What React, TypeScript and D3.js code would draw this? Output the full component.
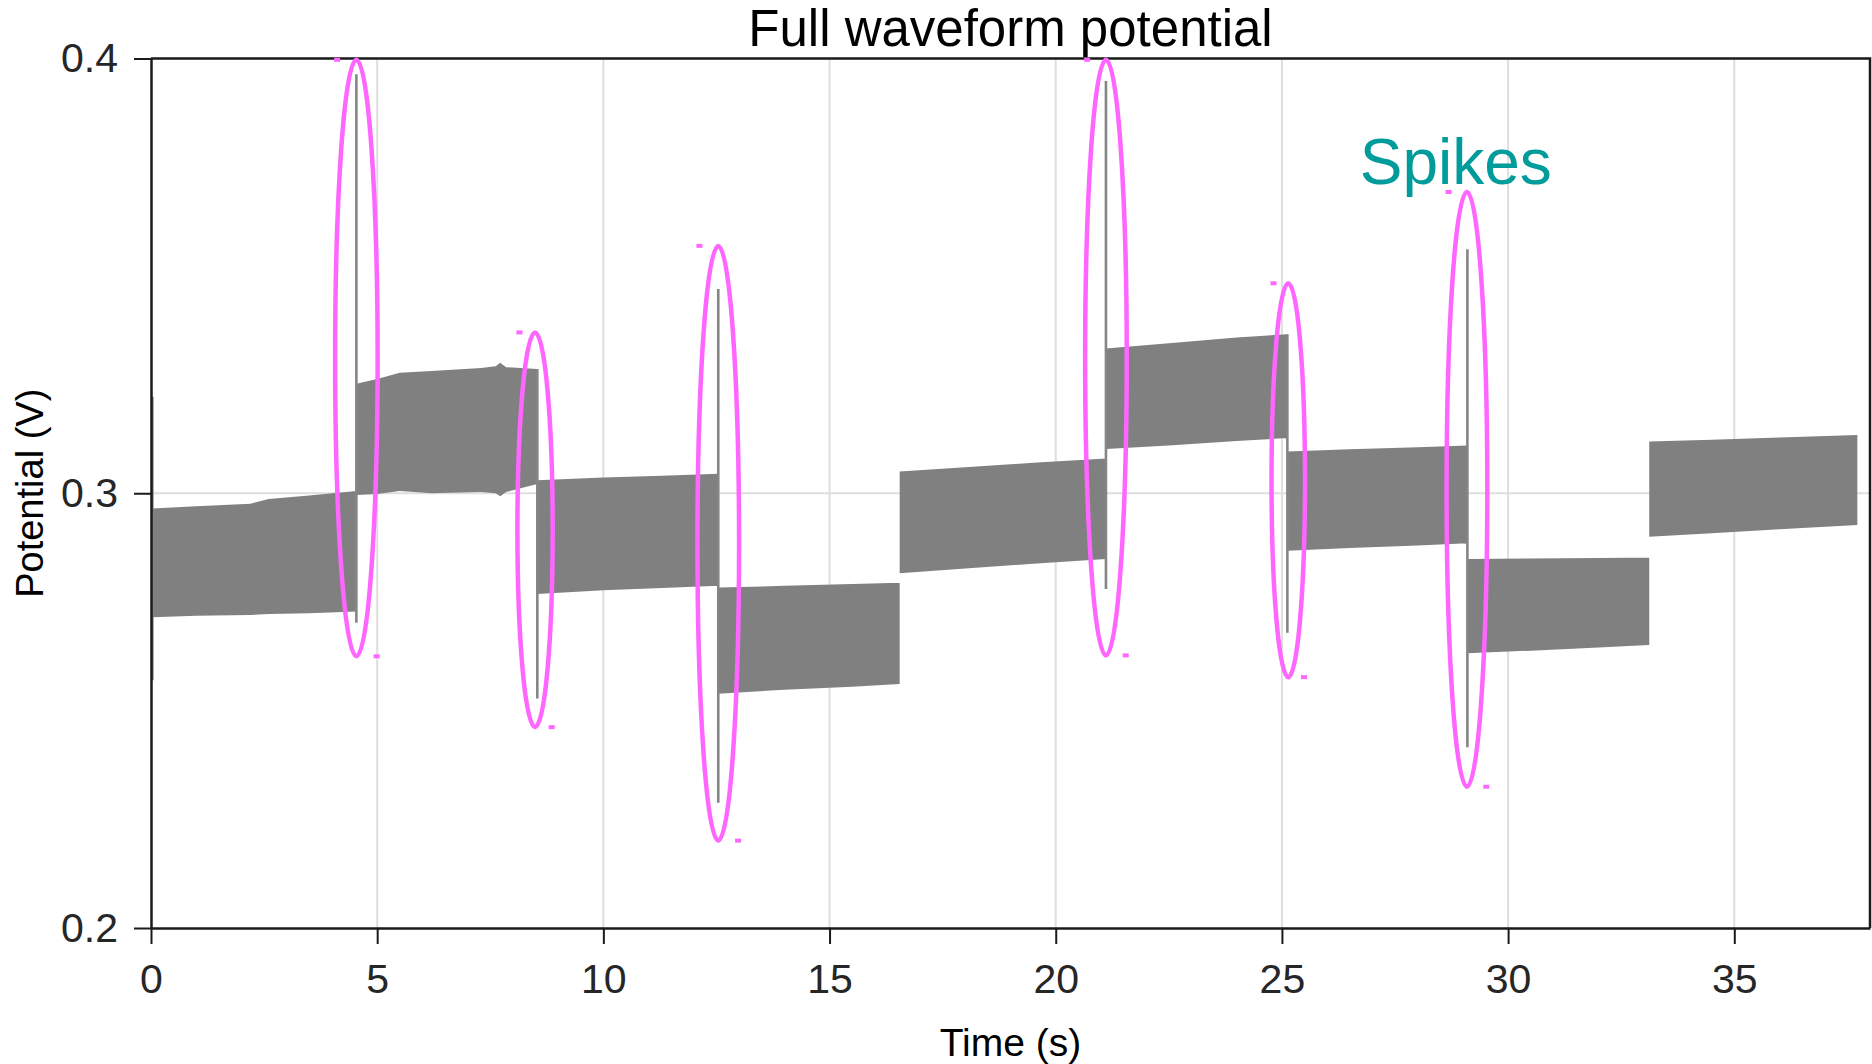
import React, { useEffect, useRef } from "react";
import * as d3 from "d3";

// tick values
const timeTicks = [0, 5, 10, 15, 20, 25, 30, 35];
const potentialTicks = [0.2, 0.3, 0.4];

// envelope of the (dense) waveform band
const envTime = [
  0.03, 1.0, 2.2, 2.6, 3.5, 4.54,
  4.54, 5.0, 5.5, 6.2, 7.3, 7.62, 7.72, 7.85, 8.54,
  8.54, 10.0, 11.3, 12.54,
  12.54, 14.0, 15.5, 16.55,
  16.55, 18.0, 19.5, 21.11,
  21.11, 22.5, 24.0, 25.12,
  25.12, 26.5, 28.0, 29.1,
  29.1, 30.5, 32.0, 33.12,
  33.12, 34.5, 36.0, 37.72
];
const envUpper = [
  0.2965, 0.2970, 0.2976, 0.2987, 0.2995, 0.3005,
  0.3252, 0.3263, 0.3277, 0.3281, 0.3288, 0.3292, 0.3300, 0.3290, 0.3286,
  0.3030, 0.3036, 0.3040, 0.3045,
  0.2783, 0.2787, 0.2791, 0.2794,
  0.3050, 0.3060, 0.3070, 0.3080,
  0.3333, 0.3345, 0.3358, 0.3366,
  0.3096, 0.3101, 0.3106, 0.3110,
  0.2849, 0.2850, 0.2851, 0.2852,
  0.3119, 0.3123, 0.3128, 0.3134
];
const envLower = [
  0.2715, 0.2718, 0.2720, 0.2722, 0.2724, 0.2728,
  0.2996, 0.2998, 0.3005, 0.3000, 0.3003, 0.3000, 0.2993, 0.3003, 0.3021,
  0.2768, 0.2777, 0.2782, 0.2787,
  0.2539, 0.2548, 0.2555, 0.2561,
  0.2816, 0.2827, 0.2838, 0.2849,
  0.3102, 0.3110, 0.3120, 0.3127,
  0.2868, 0.2874, 0.2880, 0.2885,
  0.2632, 0.2638, 0.2645, 0.2651,
  0.2900, 0.2908, 0.2917, 0.2927
];

// transient spikes (thin vertical strokes)
const spikeTime = [0.03, 4.54, 8.54, 12.54, 21.11, 25.12, 29.1];
const spikeHigh = [0.3222, 0.3964, 0.3286, 0.347, 0.3948, 0.3366, 0.3561];
const spikeLow = [0.257, 0.2702, 0.2528, 0.2288, 0.278, 0.2679, 0.2416];

// annotation rings around the spikes
const ringTime = [4.54, 8.49, 12.54, 21.11, 25.14, 29.09];
const ringCenter = [0.3311, 0.2916, 0.2885, 0.3312, 0.303, 0.3009];
const ringHalfHeight = [0.0686, 0.0454, 0.0684, 0.0685, 0.0453, 0.0684];
const ringHalfWidth = [0.47, 0.39, 0.46, 0.46, 0.37, 0.45];

const labelTime = 26.72;
const labelValue = 0.3711;

const FONT = "'Liberation Sans', Arial, Helvetica, sans-serif";

function App() {
  const ref = useRef(null);

  useEffect(() => {
    drawChart();
  }, []);

  const drawChart = () => {
    const width = 1872, height = 1064;
    const margin = { top: 58.5, right: 2, bottom: 136, left: 151 };

    const root = d3.select(ref.current);
    root.selectAll("*").remove();

    const svg = root.append("svg")
      .attr("width", width)
      .attr("height", height)
      .style("display", "block")
      .style("background", "#fff");

    const x = d3.scaleLinear().domain([0, 38]).range([margin.left, width - margin.right]);
    const y = d3.scaleLinear().domain([0.2, 0.4]).range([height - margin.bottom, margin.top]);

    // grid
    svg.append("g")
      .selectAll("line")
      .data(timeTicks.filter(t => t > 0))
      .enter()
      .append("line")
      .attr("x1", d => x(d)).attr("x2", d => x(d))
      .attr("y1", y(0.4)).attr("y2", y(0.2))
      .attr("stroke", "#dedede")
      .attr("stroke-width", 2);

    svg.append("g")
      .selectAll("line")
      .data(potentialTicks.filter(v => v > 0.2 && v < 0.4))
      .enter()
      .append("line")
      .attr("x1", x(0)).attr("x2", x(38))
      .attr("y1", d => y(d)).attr("y2", d => y(d))
      .attr("stroke", "#dedede")
      .attr("stroke-width", 2);

    // waveform band
    const band = envTime.map((t, i) => ({ t, hi: envUpper[i], lo: envLower[i] }));
    const area = d3.area()
      .x(d => x(d.t))
      .y0(d => y(d.lo))
      .y1(d => y(d.hi));

    svg.append("path")
      .datum(band)
      .attr("d", area)
      .attr("fill", "#808080");

    // spikes
    svg.append("g")
      .selectAll("line")
      .data(spikeTime.map((t, i) => ({ t, hi: spikeHigh[i], lo: spikeLow[i] })))
      .enter()
      .append("line")
      .attr("x1", d => x(d.t)).attr("x2", d => x(d.t))
      .attr("y1", d => y(d.hi)).attr("y2", d => y(d.lo))
      .attr("stroke", "#858585")
      .attr("stroke-width", 2.6);

    // box
    svg.append("path")
      .attr("d", `M${x(0)},${y(0.4)}H${x(38)}V${y(0.2)}`)
      .attr("fill", "none")
      .attr("stroke", "#1a1a1a")
      .attr("stroke-width", 2.5);

    // x axis
    const xAxis = svg.append("g")
      .attr("transform", `translate(0,${y(0.2)})`)
      .call(d3.axisBottom(x).tickValues(timeTicks).tickSize(16).tickPadding(20).tickSizeOuter(0).tickFormat(d3.format("d")));
    xAxis.select(".domain").attr("stroke", "#1a1a1a").attr("stroke-width", 2.5);
    xAxis.selectAll(".tick line").attr("stroke", "#1a1a1a").attr("stroke-width", 2);
    xAxis.selectAll("text")
      .style("font-size", "41px")
      .style("font-family", FONT)
      .attr("fill", "#262626");

    // y axis
    const yAxis = svg.append("g")
      .attr("transform", `translate(${x(0)},0)`)
      .call(d3.axisLeft(y).tickValues(potentialTicks).tickSize(17).tickPadding(16).tickSizeOuter(0).tickFormat(d3.format(".1f")));
    yAxis.select(".domain").attr("stroke", "#1a1a1a").attr("stroke-width", 2.5);
    yAxis.selectAll(".tick line").attr("stroke", "#1a1a1a").attr("stroke-width", 2);
    yAxis.selectAll("text")
      .style("font-size", "41px")
      .style("font-family", FONT)
      .attr("fill", "#262626");

    // rings around spikes
    const rings = ringTime.map((t, i) => ({
      cx: x(t),
      cy: y(ringCenter[i]),
      rx: x(t + ringHalfWidth[i]) - x(t),
      ry: y(ringCenter[i] - ringHalfHeight[i]) - y(ringCenter[i])
    }));

    svg.append("g")
      .selectAll("ellipse")
      .data(rings)
      .enter()
      .append("ellipse")
      .attr("cx", d => d.cx)
      .attr("cy", d => d.cy)
      .attr("rx", d => d.rx)
      .attr("ry", d => d.ry)
      .attr("fill", "none")
      .attr("stroke", "#ff66ff")
      .attr("stroke-width", 4.5);

    // little selection handles left over from the drawing tool
    const handles = svg.append("g").attr("fill", "#ff66ff");
    handles.selectAll("rect.tl")
      .data(rings)
      .enter()
      .append("rect")
      .attr("class", "tl")
      .attr("x", d => d.cx - d.rx - 1)
      .attr("y", d => d.cy - d.ry - 2)
      .attr("width", 6)
      .attr("height", 4);
    handles.selectAll("rect.br")
      .data(rings)
      .enter()
      .append("rect")
      .attr("class", "br")
      .attr("x", d => d.cx + d.rx - 4)
      .attr("y", d => d.cy + d.ry - 2)
      .attr("width", 6)
      .attr("height", 4);

    // annotation
    svg.append("text")
      .attr("x", x(labelTime))
      .attr("y", y(labelValue))
      .style("font-size", "64px")
      .style("font-family", FONT)
      .attr("fill", "#009b9b")
      .text("Spikes");

    // title
    svg.append("text")
      .attr("x", (x(0) + x(38)) / 2)
      .attr("y", 46)
      .attr("text-anchor", "middle")
      .style("font-size", "51px")
      .style("font-family", FONT)
      .attr("fill", "#000")
      .text("Full waveform potential");

    // axis labels
    svg.append("text")
      .attr("x", (x(0) + x(38)) / 2)
      .attr("y", 1056)
      .attr("text-anchor", "middle")
      .style("font-size", "39px")
      .style("font-family", FONT)
      .attr("fill", "#000")
      .text("Time (s)");

    svg.append("text")
      .attr("transform", `translate(43,${(y(0.4) + y(0.2)) / 2}) rotate(-90)`)
      .attr("text-anchor", "middle")
      .style("font-size", "38px")
      .style("font-family", FONT)
      .attr("fill", "#000")
      .text("Potential (V)");
  };

  return (
    <div ref={ref} style={{ position: "fixed", top: 0, left: 0, width: 1872, height: 1064, background: "#fff" }}></div>
  );
}

export default App;
